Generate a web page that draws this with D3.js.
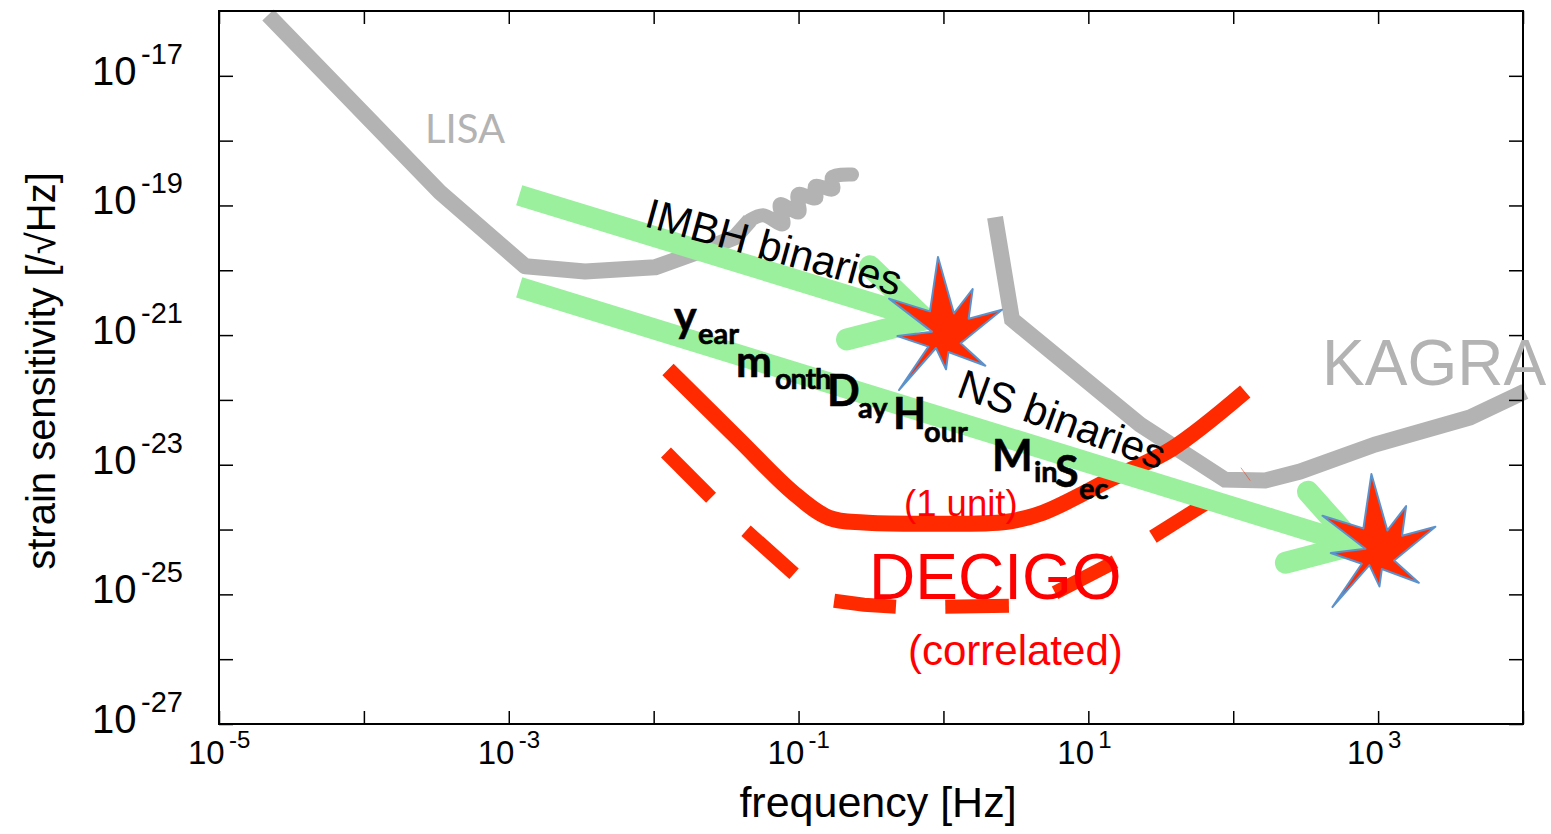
<!DOCTYPE html>
<html>
<head>
<meta charset="utf-8">
<script src="https://cdn.jsdelivr.net/npm/d3@7"></script>
<style>
  html, body { margin: 0; background: #fff; }
  text { font-family: "Liberation Sans", sans-serif; }
</style>
</head>
<body>
<div id="chart"></div>
<script>
// values
const xTicks = [1e-5, 1e-4, 1e-3, 1e-2, 1e-1, 1, 10, 100, 1e3, 1e4];
const xLabelled = [-5, -3, -1, 1, 3];
const yTicks = [1e-27, 1e-26, 1e-25, 1e-24, 1e-23, 1e-22, 1e-21, 1e-20, 1e-19, 1e-18, 1e-17];
const yLabelled = [-27, -25, -23, -21, -19, -17];

const lisaF = [2.18e-5, 3.35e-4, 1.30e-3, 3.36e-3, 1.02e-2, 2.09e-2, 3.64e-2, 4.62e-2];
const lisaH = [8.67e-17, 1.6e-19, 1.15e-20, 9.6e-21, 1.11e-20, 1.96e-20, 3.23e-20, 5.9e-20];
const lisaTailF = [4.62e-2, 5.69e-2, 7.82e-2, 7.45e-2, 0.1007, 0.0991, 0.132, 0.130, 0.173, 0.170, 0.234];
const lisaTailH = [5.9e-20, 7.05e-20, 5.12e-20, 1.04e-19, 7.85e-20, 1.49e-19, 1.29e-19, 1.98e-19, 1.78e-19, 2.72e-19, 3.0e-19];

const kagraF = [2.27, 2.97, 22.7, 87.7, 166, 289, 951, 4305, 10300];
const kagraH = [6.57e-20, 1.75e-21, 4.17e-23, 5.89e-24, 5.69e-24, 7.83e-24, 2.05e-23, 5.35e-23, 1.35e-22];

const unitF = [0.01256, 0.0388, 0.0916, 0.162, 0.283, 0.70, 2.75, 4.86, 15.0, 37.8, 121];
const unitH = [2.94e-22, 2.44e-23, 3.71e-24, 1.52e-24, 1.28e-24, 1.23e-24, 1.32e-24, 1.82e-24, 6.32e-24, 1.77e-23, 1.35e-22];

const corrF = [[0.01216, 0.0249], [0.0434, 0.0931], [0.176, 0.283, 0.47], [1.03, 2.83], [5.89, 15.3], [27.9, 74.8]];
const corrH = [[1.54e-23, 3.1e-24], [9.6e-25, 2.08e-25], [7.96e-26, 6.9e-26, 6.43e-26], [6.43e-26, 6.65e-26], [1.06e-25, 3.18e-25], [7.75e-25, 3.1e-24]];
const sliverF = [113, 131];
const sliverH = [9.0e-24, 5.69e-24];

const imbhF = [1.18e-3, 0.746];
const imbhH = [1.44e-19, 1.75e-21];
const imbhHeadF = [0.311, 0.746, 0.216];
const imbhHeadH = [1.15e-20, 1.75e-21, 8.57e-22];
const nsF = [1.18e-3, 692];
const nsH = [5.45e-21, 5.83e-25];
const nsHeadF = [328, 692, 231];
const nsHeadH = [3.84e-24, 5.83e-25, 3.08e-25];

const burstF = [1.02, 1000];
const burstH = [1.17e-21, 5.24e-25];
const burstAngles = [-5.2, 28.3, 33.9, 63.4, 69.9, 128.4, 130.7, 170.1, 178, 206.7, 217.6, 225.5, 263.6, 265.5, 299.9, 322.7];
const burstRadii = [74, 19.6, 50.2, 26.8, 61, 20.4, 53.7, 21.6, 38.7, 19.4, 74.9, 22.8, 47.6, 12.7, 64.2, 24.3];

const svgWidth = 1551;
const svgHeight = 834;
const grey = '#b3b3b3';
const green = '#9af09d';
const orange = '#ff2a00';
const red = '#ff0000';

const x = d3.scaleLog().domain([1e-5, 1e4]).range([219, 1523]);
const y = d3.scaleLog().domain([1e-27, 1e-16]).range([724, 11]);

const svg = d3.select('#chart')
  .append('svg')
  .attr('width', svgWidth)
  .attr('height', svgHeight)
  .style('display', 'block');

function drawLine(fs, hs, color, width, curve) {
  const line = d3.line()
    .x(d => x(d[0]))
    .y(d => y(d[1]))
    .curve(curve || d3.curveLinear);
  return svg.append('path')
    .attr('d', line(d3.zip(fs, hs)))
    .attr('fill', 'none')
    .attr('stroke', color)
    .attr('stroke-width', width);
}

// grey detectors go underneath
drawLine(lisaF, lisaH, grey, 16).attr('stroke-linejoin', 'round');
drawLine(lisaTailF, lisaTailH, grey, 14, d3.curveCatmullRom).attr('stroke-linecap', 'round');
drawLine(kagraF, kagraH, grey, 16);

// DECIGO
drawLine(unitF, unitH, orange, 16, d3.curveCatmullRom.alpha(0.5));
corrF.forEach((fs, i) => drawLine(fs, corrH[i], orange, 14));
drawLine(sliverF, sliverH, orange, 1).attr('opacity', 0.5);

// chirp arrows
drawLine(imbhF, imbhH, green, 21);
drawLine(imbhHeadF, imbhHeadH, green, 22).attr('stroke-linecap', 'round');
drawLine(nsF, nsH, green, 21);
drawLine(nsHeadF, nsHeadH, green, 22).attr('stroke-linecap', 'round');

// merger bursts
const burst = d3.lineRadial()
  .angle(d => d[0] * Math.PI / 180)
  .radius(d => d[1])
  .curve(d3.curveLinearClosed);

svg.selectAll('.burst')
  .data(d3.zip(burstF, burstH))
  .enter()
  .append('path')
  .attr('class', 'burst')
  .attr('transform', d => `translate(${x(d[0])}, ${y(d[1])})`)
  .attr('d', burst(d3.zip(burstAngles, burstRadii)))
  .attr('fill', orange)
  .attr('stroke', '#5b92cc')
  .attr('stroke-width', 2)
  .attr('stroke-linejoin', 'round');

// frame and ticks
svg.append('rect')
  .attr('x', 219)
  .attr('y', 11)
  .attr('width', 1304)
  .attr('height', 713)
  .attr('fill', 'none')
  .attr('stroke', 'black')
  .attr('stroke-width', 2);

function tickMarks(g) {
  g.selectAll('.domain').remove();
  g.selectAll('.tick line').attr('stroke', 'black').attr('stroke-width', 1.5);
  g.selectAll('text').remove();
}

svg.append('g').attr('transform', 'translate(0, 724)')
  .call(d3.axisBottom(x).tickValues(xTicks).tickSize(-13)).call(tickMarks);
svg.append('g').attr('transform', 'translate(0, 11)')
  .call(d3.axisTop(x).tickValues(xTicks).tickSize(-13)).call(tickMarks);
svg.append('g').attr('transform', 'translate(219, 0)')
  .call(d3.axisLeft(y).tickValues(yTicks).tickSize(-14)).call(tickMarks);
svg.append('g').attr('transform', 'translate(1523, 0)')
  .call(d3.axisRight(y).tickValues(yTicks).tickSize(-14)).call(tickMarks);

// tick labels
xLabelled.forEach(p => {
  const px = x(Math.pow(10, p));
  svg.append('text').attr('x', px - 31).attr('y', 764).attr('font-size', 33).text('10');
  svg.append('text').attr('x', px + 10).attr('y', 748).attr('font-size', 24).text(p);
});
yLabelled.forEach(p => {
  const py = y(Math.pow(10, p));
  svg.append('text').attr('x', 92).attr('y', py + 9).attr('font-size', 40).text('10');
  svg.append('text').attr('x', 141).attr('y', py - 12).attr('font-size', 29).text(p);
});

// axis titles
svg.append('text')
  .attr('x', 878)
  .attr('y', 817)
  .attr('text-anchor', 'middle')
  .attr('font-size', 43)
  .text('frequency [Hz]');

svg.append('text')
  .attr('transform', 'translate(55, 371) rotate(-90)')
  .attr('text-anchor', 'middle')
  .attr('font-size', 40)
  .text('strain sensitivity [/√Hz]');

// annotations
function note(txt, px, py, size, color) {
  return svg.append('text')
    .attr('x', px)
    .attr('y', py)
    .attr('font-size', size)
    .attr('fill', color)
    .text(txt);
}

note('LISA', 425, 143, 40, grey).style('font-family', 'Lato');
note('KAGRA', 1322, 385, 64, grey);
note('DECIGO', 869, 599, 64, red);
note('(1 unit)', 904, 516, 36.5, red);
note('(correlated)', 908, 665, 42, red);

svg.append('text')
  .attr('transform', 'translate(643, 226) rotate(15.4)')
  .attr('font-size', 42)
  .text('IMBH binaries');
svg.append('text')
  .attr('transform', 'translate(955, 396) rotate(19.9)')
  .attr('font-size', 42)
  .text('NS binaries');

// time to merger, big letter then small rest
const bigSize = 43;
const smallSize = 29;
[
  ['y', 674, 332, bigSize, 0], ['ear', 698, 344, smallSize, 0],
  ['m', 736, 377, bigSize, 0], ['onth', 775, 389, smallSize, -1.2],
  ['D', 827, 406, bigSize, 0], ['ay', 858, 418, smallSize, 0],
  ['H', 893, 429, bigSize, 0], ['our', 924, 442, smallSize, 0],
  ['M', 992, 471, bigSize, 0], ['in', 1034, 482, smallSize, 0],
  ['S', 1055, 487, bigSize, 0], ['ec', 1079, 499, smallSize, 0]
].forEach(d => {
  note(d[0], d[1], d[2], d[3], 'black')
    .style('font-family', 'Lato')
    .style('letter-spacing', d[4] + 'px')
    .attr('font-weight', 700)
    .attr('stroke', 'black')
    .attr('stroke-width', 0.6);
});
</script>
</body>
</html>
